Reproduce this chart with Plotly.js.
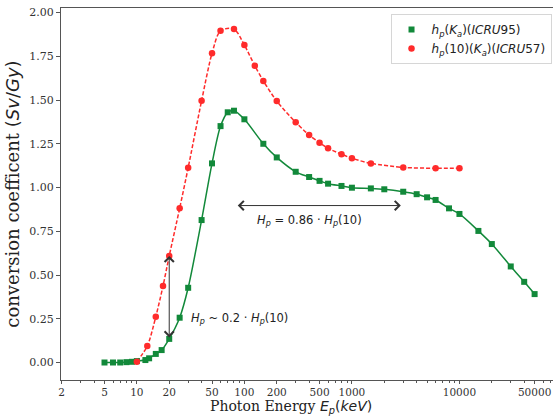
<!DOCTYPE html>
<html>
<head>
<meta charset="utf-8">
<script src="https://cdn.plot.ly/plotly-3.0.1.min.js"></script>
<style>html,body{margin:0;padding:0;background:#fff;}#chart{width:553px;height:417px;}</style>
</head>
<body>
<div id="chart"></div>
<script>
// ---- data ----
const energyICRU95 = [5,6,7,8,9,10,12,13,15,17,20,25,30,40,50,60,70,80,100,150,200,300,400,500,600,800,1000,1500,2000,3000,4000,5000,6000,8000,10000,15000,20000,30000,40000,50000];
const hpICRU95 = [0,0,0,0.002,0.004,0.008,0.014,0.024,0.049,0.071,0.135,0.256,0.427,0.814,1.138,1.351,1.43,1.439,1.39,1.25,1.172,1.09,1.06,1.038,1.022,1.009,0.999,0.995,0.99,0.976,0.962,0.944,0.929,0.881,0.849,0.752,0.677,0.549,0.461,0.391];

const energyICRU57 = [10,12.5,15,17.5,20,25,30,40,50,60,80,100,125,150,200,300,400,500,600,800,1000,1500,3000,6000,10000];
const hp10ICRU57 = [0.005,0.094,0.262,0.437,0.609,0.881,1.113,1.496,1.767,1.896,1.906,1.814,1.696,1.609,1.494,1.373,1.300,1.256,1.224,1.190,1.167,1.138,1.115,1.110,1.110];

const xTickVals = [2,5,10,20,50,100,200,500,1000,10000,50000];
const xTickText = ['2','5','10','20','50','100','200','500','1000','10000','50000'];
const yTickVals = [0,0.25,0.5,0.75,1.0,1.25,1.5,1.75,2.0];

const nameICRU95 = '<i>h</i><sub><i>p</i></sub>(<i>K</i><sub><i>a</i></sub>)(<i>ICRU</i>95)';
const nameICRU57 = '<i>h</i><sub><i>p</i></sub>(10)(<i>K</i><sub><i>a</i></sub>)(<i>ICRU</i>57)';
const labelLow = '<i>H</i><sub><i>p</i></sub> ~ 0.2 · <i>H</i><sub><i>p</i></sub>(10)';
const labelHigh = '<i>H</i><sub><i>p</i></sub> = 0.86 · <i>H</i><sub><i>p</i></sub>(10)';
const xTitle = 'Photon Energy <span style="font-family:DejaVu Sans"><i>E</i><sub><i>p</i></sub>(<i>keV</i>)</span>';
const yTitle = 'conversion coefficent <span style="font-family:DejaVu Sans">(<i>Sv</i>/<i>Gy</i>)</span>';

// ---- styling ----
const GREEN = '#12893a';
const RED = '#ff2b2b';
const AXC = '#555555';
const SERIF = 'DejaVu Serif, serif';
const SANS = 'DejaVu Sans, sans-serif';

// minor ticks for the log axis
const minorVals = [];
[1,10,100,1000,10000].forEach(d => { for (let k = 2; k <= 9; k++) { const v = k*d; if (v >= 2 && v <= 70000) minorVals.push(v); } });

const traces = [
  {x: energyICRU95, y: hpICRU95, mode: 'lines', line: {color: GREEN, width: 1.5, shape: 'spline', smoothing: 0.8}, showlegend: false, hoverinfo: 'skip'},
  {x: energyICRU57, y: hp10ICRU57, mode: 'lines', line: {color: RED, width: 1.5, dash: '4px,2px', shape: 'spline', smoothing: 0.8}, showlegend: false, hoverinfo: 'skip'},
  {x: energyICRU95, y: hpICRU95, mode: 'markers', name: nameICRU95, marker: {symbol: 'square', size: 6, color: GREEN}},
  {x: energyICRU57, y: hp10ICRU57, mode: 'markers', name: nameICRU57, marker: {symbol: 'circle', size: 6.5, color: RED}}
];

const i20g = energyICRU95.indexOf(20);
const i20r = energyICRU57.indexOf(20);
const L = Math.log10;

const layout = {
  width: 553, height: 417,
  margin: {l: 61, r: 0, t: 8, b: 37},
  paper_bgcolor: '#fff', plot_bgcolor: '#fff',
  showlegend: true,
  legend: {x: 0.997, xanchor: 'right', y: 0.984, yanchor: 'top', bgcolor: '#fff', bordercolor: '#d6d6d6', borderwidth: 1,
           font: {family: SANS, size: 12, color: '#222'}},
  xaxis: {
    type: 'log', range: [L(1.97), 4.87], automargin: false,
    tickmode: 'array', tickvals: xTickVals, ticktext: xTickText,
    ticks: 'outside', ticklen: 3, tickcolor: AXC, tickwidth: 1, ticklabelstandoff: -1,
    minor: {tickmode: 'array', tickvals: minorVals, ticks: 'outside', ticklen: 2, tickcolor: AXC, showgrid: false},
    showgrid: false, zeroline: false, showline: true, mirror: true, linecolor: AXC, linewidth: 1,
    tickfont: {family: SERIF, size: 10.5, color: '#333'}
  },
  yaxis: {
    range: [-0.1, 2.026], automargin: false,
    tickmode: 'array', tickvals: yTickVals, tickformat: '.2f',
    ticks: 'outside', ticklen: 4, tickcolor: AXC, tickwidth: 1,
    showgrid: false, zeroline: false, showline: true, mirror: true, linecolor: AXC, linewidth: 1,
    tickfont: {family: SERIF, size: 11, color: '#333'},
    title: {text: yTitle, font: {family: SERIF, size: 18, color: '#222'}, standoff: 4}
  },
  annotations: [
    {x: L(20), y: hp10ICRU57[i20r], ax: L(20), ay: hpICRU95[i20g], xref: 'x', yref: 'y', axref: 'x', ayref: 'y',
     text: '', showarrow: true, arrowside: 'end+start', arrowhead: 4, arrowsize: 1.8, arrowwidth: 1, arrowcolor: '#333', standoff: 0, startstandoff: 0},
    {x: L(2850), y: 0.897, ax: L(84), ay: 0.897, xref: 'x', yref: 'y', axref: 'x', ayref: 'y',
     text: '', showarrow: true, arrowside: 'end+start', arrowhead: 4, arrowsize: 1.8, arrowwidth: 1, arrowcolor: '#333', standoff: 0, startstandoff: 0},
    {x: L(30.3), y: 0.254, xref: 'x', yref: 'y', xanchor: 'left', yanchor: 'middle', showarrow: false,
     text: labelLow, font: {family: SANS, size: 11.5, color: '#222'}},
    {x: L(400), y: 0.81, xref: 'x', yref: 'y', xanchor: 'center', yanchor: 'middle', showarrow: false,
     text: labelHigh, font: {family: SANS, size: 11.5, color: '#222'}},
    {x: 0.4675, y: 0, xref: 'paper', yref: 'paper', xanchor: 'center', yanchor: 'bottom', yshift: -37, borderpad: 0, showarrow: false,
     text: xTitle, font: {family: SERIF, size: 14, color: '#222'}}
  ]
};

Plotly.newPlot('chart', traces, layout, {displayModeBar: false, staticPlot: true});
</script>
</body>
</html>
